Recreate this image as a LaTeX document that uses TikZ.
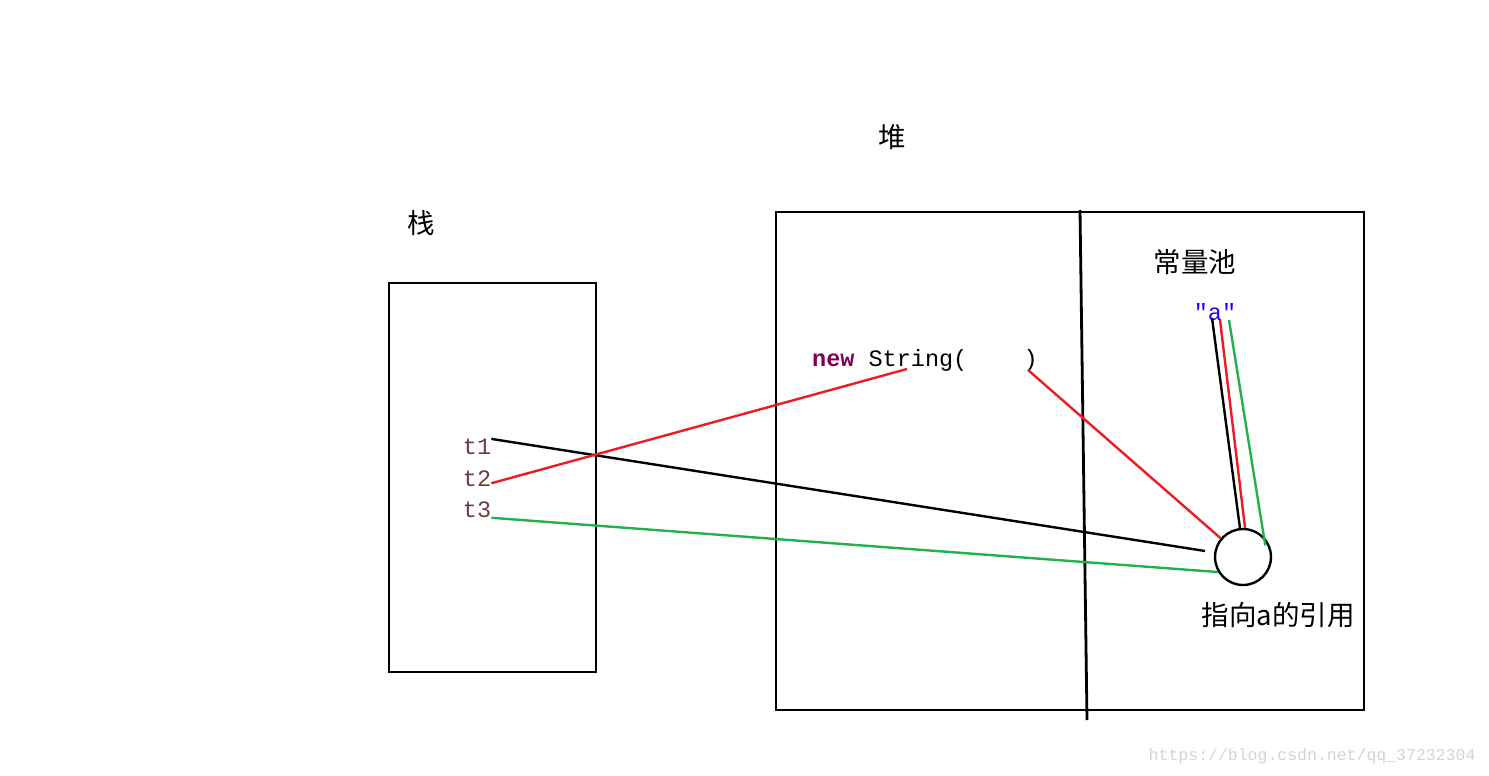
\documentclass[tikz,border=0pt]{standalone}
\usepackage{fontspec}
\setmonofont{Liberation Mono}
\newfontfamily\cjk{Noto Sans CJK SC}
\usetikzlibrary{positioning}
\definecolor{paintred}{HTML}{ED1C24}
\definecolor{paintgreen}{HTML}{22B14C}
\definecolor{kwpurple}{HTML}{7F0055}
\definecolor{strblue}{HTML}{2A00FF}
\definecolor{varbrown}{HTML}{6A3E3E}
\definecolor{markgray}{HTML}{D8D4CC}
\tikzset{
    zh/.style={font=\cjk\fontsize{27.5}{32}\selectfont, inner sep=0pt},
    code/.style={font=\ttfamily\fontsize{23.5}{27}\selectfont, inner sep=0pt},
    area/.style={draw, line width=2.8pt, inner sep=0pt},
    wire/.style={line width=2.4pt}
}
\begin{document}
\begin{tikzpicture}[x=1pt, y=-1pt]
    \useasboundingbox (0,0) rectangle (1489,776);
    % stack and heap
    \node[area, minimum width=207pt, minimum height=389pt] (stack) at (492.5,477.5) {};
    \node[area, minimum width=588pt, minimum height=498pt] (heap) at (1070,461) {};
    \draw[line width=2.8pt] (1080,210) -- (1087,720);
    \node[zh] (stacklbl) at (421,223) {栈};
    \node[zh] (heaplbl) at (892,137) {堆};
    \node[zh] (poollbl) at (1195,262) {常量池};
    % variables
    \node[code, text=varbrown] (t1) at (477,447) {t1};
    \node[code, text=varbrown, below=15pt of t1] (t2) {t2};
    \node[code, text=varbrown, below=15pt of t2] (t3) {t3};
    \node[code, anchor=west] (newstr) at (812,360) {\textcolor{kwpurple}{\bfseries new} String(\ \ \ \ )};
    \node[code, text=strblue] (lit) at (1215,312) {"a"};
    \node[draw, circle, line width=2.4pt, minimum size=56pt, inner sep=0pt] (ref) at (1243,557) {};
    \node[zh] (reflbl) at (1278,615) {指向a的引用};
    \node[font=\ttfamily\fontsize{16.5}{20}\selectfont, text=markgray, anchor=east] (mark) at (1479,756) {https://blog.csdn.net/qq\_37232304};
    % free ends
    \coordinate (argl) at (907,369);
    \coordinate (argr) at (1028,370);
    \coordinate (reft1) at (1205,551);
    \coordinate (litk) at (1212,318);
    \coordinate (litr) at (1220,320);
    \coordinate (litg) at (1229,320);
    % references
    \draw[wire] (t1.north east) -- (reft1);
    \draw[wire, paintred] ([yshift=-5pt]t2.east) -- (argl);
    \draw[wire, paintred] (argr) -- (ref.140);
    \draw[wire, paintgreen] (t3.south east) -- (ref.211);
    \draw[wire] (litk) -- (ref.96);
    \draw[wire, paintred] (litr) -- (ref.86);
    \draw[wire, paintgreen] (litg) -- ([shift={(-3pt,-3pt)}]ref.30);
\end{tikzpicture}
\end{document}
